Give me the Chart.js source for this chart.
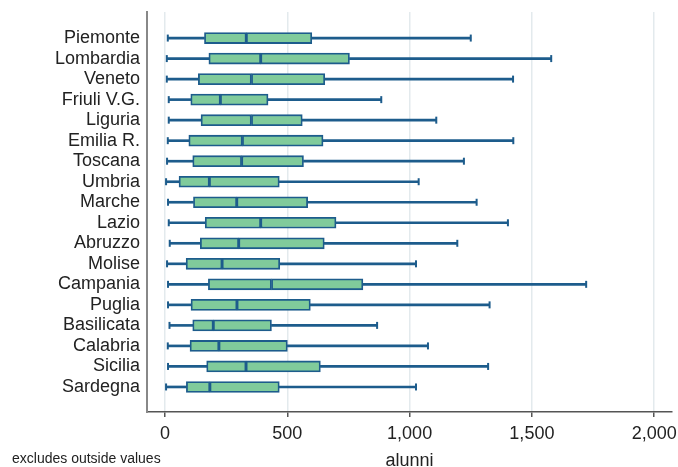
<!DOCTYPE html>
<html>
<head>
<meta charset="utf-8">
<script src="https://cdn.jsdelivr.net/npm/chart.js@4.4.1/dist/chart.umd.min.js"></script>
<style>
  html, body { margin: 0; padding: 0; background: #fff; }
  #wrap { width: 678px; height: 467px; }
</style>
</head>
<body>
<div id="wrap"><canvas id="boxChart"></canvas></div>
<script>
const regions = ["Piemonte", "Lombardia", "Veneto", "Friuli V.G.", "Liguria", "Emilia R.",
  "Toscana", "Umbria", "Marche", "Lazio", "Abruzzo", "Molise", "Campania", "Puglia",
  "Basilicata", "Calabria", "Sicilia", "Sardegna"];
const minVals = [11, 7, 7, 15, 15, 11, 8, 4, 12, 15, 19, 8, 12, 12, 18, 11, 12, 4];
const q1Vals = [161, 179, 136, 105, 147, 97, 113, 57, 116, 164, 144, 86, 177, 106, 113, 102, 170, 87];
const medVals = [332, 391, 353, 226, 353, 316, 313, 181, 293, 391, 301, 233, 435, 294, 197, 220, 331, 183];
const q3Vals = [600, 754, 653, 421, 561, 646, 566, 467, 583, 699, 651, 469, 809, 594, 435, 500, 635, 467];
const maxVals = [1250, 1579, 1423, 884, 1109, 1424, 1222, 1037, 1274, 1402, 1195, 1026, 1722, 1327, 867, 1075, 1321, 1026];
const xTicks = [0, 500, 1000, 1500, 2000];

const boxFill = "#80cb9b";
const boxLine = "#1d5c8c";

Chart.defaults.font.family = "'Liberation Sans', Arial, sans-serif";
Chart.defaults.color = "#222";

// floating segments [a, b] per row
function segments(from, to) {
  return regions.map((r, i) => ({ x: [from[i], to[i]], y: i }));
}
function points(vals) {
  return regions.map((r, i) => ({ x: vals[i], y: i }));
}

const footNote = {
  id: "footNote",
  afterDraw(chart) {
    const ctx = chart.ctx;
    ctx.save();
    ctx.font = "14px 'Liberation Sans', Arial, sans-serif";
    ctx.fillStyle = "#222";
    ctx.textBaseline = "middle";
    ctx.fillText("excludes outside values", 12, 459);
    ctx.restore();
  }
};

const boxStyle = {
  type: "bar",
  backgroundColor: boxFill,
  borderColor: boxLine,
  borderWidth: 1.8,
  borderSkipped: false,
  barThickness: 11,
  grouped: false,
  order: 1
};
const whiskerStyle = {
  type: "bar",
  backgroundColor: boxLine,
  borderWidth: 0,
  barThickness: 2,
  grouped: false,
  order: 3
};
const capStyle = {
  type: "line",
  showLine: false,
  pointStyle: "line",
  rotation: 90,
  radius: 3.5,
  borderColor: boxLine,
  borderWidth: 2,
  order: 2
};

new Chart(document.getElementById("boxChart"), {
  data: {
    datasets: [
      Object.assign({ label: "low whisker", data: segments(minVals, q1Vals) }, whiskerStyle),
      Object.assign({ label: "high whisker", data: segments(q3Vals, maxVals) }, whiskerStyle),
      Object.assign({ label: "min", data: points(minVals) }, capStyle),
      Object.assign({ label: "max", data: points(maxVals) }, capStyle),
      Object.assign({ label: "q1-median", data: segments(q1Vals, medVals) }, boxStyle),
      Object.assign({ label: "median-q3", data: segments(medVals, q3Vals) }, boxStyle)
    ]
  },
  options: {
    indexAxis: "y",
    responsive: true,
    maintainAspectRatio: false,
    animation: false,
    layout: { padding: { top: 12, right: 6, left: 0, bottom: 0 } },
    plugins: { legend: { display: false }, tooltip: { enabled: false } },
    scales: {
      x: {
        type: "linear",
        min: -74,
        max: 2073,
        afterBuildTicks: (scale) => { scale.ticks = xTicks.map((v) => ({ value: v })); },
        afterFit: (scale) => {
          scale.height = 55;
          scale.paddingLeft = 0;
          scale.paddingRight = 0;
        },
        ticks: {
          font: { size: 18 },
          color: "#222",
          padding: 6,
          callback: (v) => v.toLocaleString("en-US")
        },
        grid: { color: "#e3eaed", lineWidth: 1.5, tickLength: 5, tickColor: "#555" },
        border: { color: "#555", width: 1.5 },
        title: { display: true, text: "alunni", font: { size: 18 }, color: "#222", padding: { top: 0, bottom: -5 } }
      },
      y: {
        type: "linear",
        reverse: true,
        offset: false,
        min: -1.27,
        max: 18.22,
        afterBuildTicks: (scale) => { scale.ticks = regions.map((r, i) => ({ value: i })); },
        afterFit: (scale) => {
          scale.width = 147;
          scale.paddingTop = 0;
          scale.paddingBottom = 0;
        },
        ticks: {
          font: { size: 18 },
          color: "#222",
          padding: 7,
          autoSkip: false,
          callback: (v) => regions[v]
        },
        grid: { display: false, drawTicks: false, offset: false },
        border: { color: "#888", width: 2 }
      }
    }
  },
  plugins: [footNote]
});
</script>
</body>
</html>
